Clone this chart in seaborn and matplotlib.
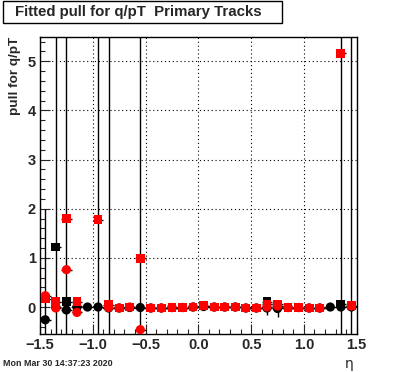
import numpy as np
import pandas as pd
import matplotlib
matplotlib.use('Agg')
import matplotlib.pyplot as plt
from matplotlib.patches import Rectangle
from matplotlib.ticker import MultipleLocator
import seaborn as sns

nan = np.nan
BIG = 20.0

# bin centres in eta
eta = [-1.45, -1.35, -1.25, -1.15, -1.05, -0.95, -0.85, -0.75, -0.65, -0.55,
       -0.45, -0.35, -0.25, -0.15, -0.05, 0.05, 0.15, 0.25, 0.35, 0.45,
       0.55, 0.65, 0.75, 0.85, 0.95, 1.05, 1.15, 1.25, 1.35, 1.45]

# black circles
black_circ = [-0.26, 0.00, -0.06, 0.00, 0.00, 0.00, -0.02, -0.02, -0.01, -0.01,
              -0.02, -0.02, -0.01, -0.01, 0.00, 0.01, 0.00, 0.00, 0.00, -0.02,
              -0.02, -0.02, -0.03, -0.01, -0.01, -0.02, -0.02, 0.00, 0.00, 0.00]
black_circ_err = [2.25, 0.02, BIG, 0.02, 0.02, BIG, BIG, 0.02, 0.02, BIG,
                  0.02, 0.02, 0.02, 0.02, 0.02, 0.02, 0.02, 0.02, 0.02, 0.02,
                  0.02, 0.15, 0.17, 0.02, 0.02, 0.02, 0.02, 0.02, 0.02, BIG]

# black squares
black_sq = [nan, 1.22, 0.11, 0.02, nan, nan, nan, nan, nan, nan,
            nan, nan, nan, nan, nan, nan, nan, nan, nan, nan,
            nan, 0.11, nan, nan, nan, nan, nan, nan, 0.06, nan]
black_sq_err = [0.02, BIG, 0.02, 0.02, 0.02, 0.02, 0.02, 0.02, 0.02, 0.02,
                0.02, 0.02, 0.02, 0.02, 0.02, 0.02, 0.02, 0.02, 0.02, 0.02,
                0.02, 0.02, 0.02, 0.02, 0.02, 0.02, 0.02, 0.02, BIG, 0.02]

# red squares
red_sq = [0.17, 0.11, 1.80, 0.11, nan, 1.78, 0.05, -0.02, 0.00, 0.99,
          -0.02, -0.02, -0.01, -0.01, 0.00, 0.03, 0.00, 0.00, 0.00, -0.02,
          -0.02, 0.06, 0.06, -0.01, -0.01, -0.02, -0.02, nan, 5.16, 0.03]

# red circles
red_circ = [0.23, -0.02, 0.76, -0.11, nan, nan, -0.01, -0.02, 0.00, -0.46,
            -0.02, -0.02, -0.01, -0.01, 0.00, 0.03, 0.00, 0.00, 0.00, -0.02,
            -0.02, 0.00, 0.02, -0.01, -0.01, -0.02, -0.02, nan, nan, 0.02]

sns.set_style('ticks')
plt.rcParams['font.family'] = ['Liberation Sans', 'DejaVu Sans']
plt.rcParams['font.weight'] = 'bold'

fig = plt.figure(figsize=(3.96, 3.72), dpi=100)
ax = fig.add_axes([40 / 396, 1 - 334.3 / 372, (356.7 - 40) / 396, (334.3 - 36.7) / 372])

frames = []
for name, vals in [('bc', black_circ), ('bs', black_sq), ('rs', red_sq), ('rc', red_circ)]:
    frames.append(pd.DataFrame({'eta': eta, 'pull': vals, 'series': name}))
df = pd.concat(frames, ignore_index=True).dropna()

# error bars (all black)
errs = {'bc': black_circ_err, 'bs': black_sq_err}
for name, vals in [('bc', black_circ), ('bs', black_sq), ('rs', red_sq), ('rc', red_circ)]:
    v = np.array(vals, dtype=float)
    e = np.array(errs.get(name, [0.02] * len(eta)))
    m = ~np.isnan(v)
    ax.errorbar(np.array(eta)[m], v[m], xerr=0.05, yerr=e[m], fmt='none',
                ecolor='black', elinewidth=1.0, capsize=0, zorder=2)

sns.scatterplot(data=df, x='eta', y='pull', hue='series', style='series',
                size='series',
                sizes={'bc': 44, 'bs': 40, 'rs': 40, 'rc': 44},
                palette={'bc': 'black', 'bs': 'black', 'rs': 'red', 'rc': 'red'},
                markers={'bc': 'o', 'bs': 's', 'rs': 's', 'rc': 'o'},
                linewidth=0, legend=False, ax=ax, zorder=3)

ax.set_xlim(-1.5, 1.5)
ax.set_ylim(-0.555, 5.5)
ax.xaxis.set_major_locator(MultipleLocator(0.5))
ax.xaxis.set_minor_locator(MultipleLocator(0.1))
ax.yaxis.set_major_locator(MultipleLocator(1))
ax.yaxis.set_minor_locator(MultipleLocator(0.2))
ax.tick_params(which='both', direction='in', top=False, right=False,
               labelsize=10.5, width=0.8, pad=3)
ax.tick_params(which='major', length=7)
ax.tick_params(which='minor', length=3.5)
ax.grid(True, which='major', color='black', linestyle=(0, (1, 2.5)), linewidth=0.8)
ax.set_xlabel('')
ax.set_ylabel('')
for sp in ax.spines.values():
    sp.set_linewidth(1.0)
    sp.set_color('black')

# title box
fig.patches.append(Rectangle((3.3 / 396, 1 - 22.7 / 372), (281.7 - 3.3) / 396, 21.7 / 372,
                             transform=fig.transFigure, facecolor='white',
                             edgecolor='black', linewidth=1.0))
fig.text(138 / 396, 1 - 12 / 372, 'Fitted pull for q/pT  Primary Tracks',
         ha='center', va='center', fontsize=10.8, fontweight='bold')

fig.text(15 / 396, 1 - 37 / 372, 'pull for q/pT', rotation=90, ha='center',
         va='top', fontsize=9.7, fontweight='bold')
fig.text(354 / 396, 1 - 364 / 372, 'η', ha='right', va='center',
         fontsize=10, fontweight='normal', family='DejaVu Sans')
fig.text(3 / 396, 1 - 364 / 372, 'Mon Mar 30 14:37:23 2020', ha='left',
         va='center', fontsize=6.4, fontweight='bold')

fig.savefig('out.png', dpi=100)
